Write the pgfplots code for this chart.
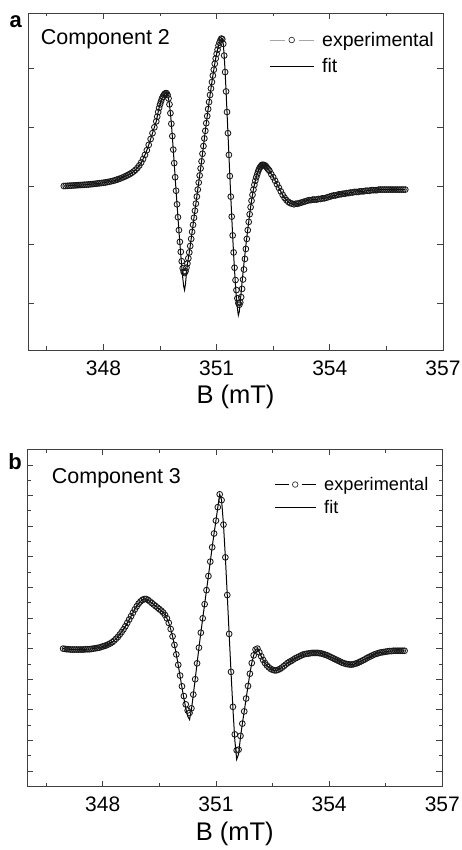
\documentclass[border=0pt]{standalone}
\usepackage{fontspec}
\setmainfont{Liberation Sans}
\usepackage{pgfplots}
\usepackage{pgfplotstable}
\pgfplotsset{compat=1.18}

% Component 2: B (mT), experimental, fit
\pgfplotstableread{
B exp fit
346.95 0.000 0.000
347.00 0.002 0.002
347.05 0.004 0.004
347.10 0.006 0.006
347.15 0.008 0.008
347.20 0.010 0.010
347.25 0.012 0.012
347.30 0.014 0.014
347.35 0.016 0.016
347.40 0.018 0.018
347.45 0.020 0.020
347.50 0.022 0.022
347.55 0.024 0.024
347.60 0.027 0.027
347.65 0.030 0.030
347.70 0.033 0.033
347.75 0.036 0.036
347.80 0.040 0.040
347.85 0.044 0.044
347.90 0.048 0.048
347.95 0.052 0.052
348.00 0.056 0.056
348.05 0.061 0.061
348.10 0.067 0.067
348.15 0.073 0.073
348.20 0.080 0.080
348.25 0.088 0.088
348.30 0.097 0.097
348.35 0.107 0.107
348.40 0.118 0.118
348.45 0.130 0.130
348.50 0.143 0.143
348.55 0.157 0.157
348.60 0.172 0.172
348.65 0.188 0.188
348.70 0.205 0.205
348.75 0.225 0.225
348.80 0.248 0.248
348.85 0.275 0.275
348.90 0.308 0.308
348.95 0.350 0.350
349.00 0.400 0.400
349.05 0.460 0.460
349.10 0.530 0.530
349.15 0.610 0.610
349.20 0.700 0.700
349.25 0.800 0.800
349.30 0.900 0.900
349.35 1.000 1.000
349.40 1.100 1.100
349.425 1.18 1.18
349.450 1.26 1.26
349.475 1.33 1.33
349.500 1.39 1.39
349.525 1.44 1.44
349.550 1.49 1.49
349.575 1.52 1.52
349.600 1.55 1.55
349.625 1.57 1.57
349.650 1.58 1.58
349.675 1.58 1.58
349.700 1.55 1.55
349.725 1.49 1.49
349.750 1.39 1.39
349.775 1.24 1.24
349.800 1.06 1.06
349.825 0.85 0.85
349.850 0.62 0.62
349.875 0.39 0.39
349.900 0.15 0.15
349.925 -0.08 -0.08
349.950 -0.31 -0.31
349.975 -0.53 -0.54
350.000 -0.75 -0.76
350.025 -0.95 -0.97
350.050 -1.12 -1.17
350.075 -1.28 -1.37
350.100 -1.40 -1.55
350.125 -1.46 -1.70
350.150 -1.48 -1.77
350.175 -1.45 -1.66
350.200 -1.39 -1.48
350.225 -1.32 -1.33
350.250 -1.23 -1.23
350.275 -1.13 -1.13
350.300 -1.02 -1.02
350.325 -0.90 -0.90
350.350 -0.78 -0.78
350.375 -0.66 -0.66
350.400 -0.54 -0.54
350.425 -0.42 -0.42
350.450 -0.30 -0.30
350.475 -0.18 -0.18
350.500 -0.06 -0.06
350.525 0.06 0.06
350.550 0.18 0.18
350.575 0.30 0.30
350.600 0.42 0.42
350.625 0.55 0.55
350.650 0.68 0.68
350.675 0.81 0.81
350.700 0.94 0.94
350.725 1.07 1.07
350.750 1.19 1.19
350.775 1.31 1.31
350.800 1.43 1.43
350.825 1.55 1.55
350.850 1.66 1.66
350.875 1.77 1.77
350.900 1.88 1.88
350.925 1.98 1.98
350.950 2.08 2.08
350.975 2.17 2.17
351.000 2.25 2.25
351.025 2.32 2.32
351.050 2.39 2.39
351.075 2.44 2.44
351.100 2.48 2.48
351.125 2.51 2.51
351.150 2.50 2.50
351.175 2.42 2.42
351.200 2.22 2.22
351.225 1.94 1.94
351.250 1.61 1.61
351.275 1.26 1.26
351.300 0.90 0.90
351.325 0.53 0.53
351.350 0.17 0.17
351.375 -0.18 -0.18
351.400 -0.52 -0.52
351.425 -0.84 -0.85
351.450 -1.13 -1.16
351.475 -1.39 -1.44
351.500 -1.60 -1.69
351.525 -1.77 -1.91
351.550 -1.91 -2.08
351.575 -1.99 -2.20
351.600 -2.02 -2.14
351.625 -1.98 -1.98
351.650 -1.89 -1.80
351.675 -1.75 -1.63
351.700 -1.59 -1.47
351.725 -1.42 -1.31
351.750 -1.24 -1.16
351.775 -1.07 -1.01
351.800 -0.90 -0.87
351.825 -0.75 -0.74
351.850 -0.61 -0.61
351.875 -0.48 -0.48
351.900 -0.36 -0.36
351.925 -0.25 -0.25
351.950 -0.15 -0.15
351.975 -0.06 -0.06
352.000 0.02 0.02
352.025 0.09 0.09
352.050 0.15 0.15
352.075 0.20 0.20
352.100 0.25 0.25
352.125 0.29 0.29
352.150 0.32 0.32
352.175 0.34 0.34
352.200 0.36 0.36
352.225 0.36 0.36
352.250 0.36 0.36
352.275 0.35 0.35
352.300 0.34 0.34
352.325 0.32 0.32
352.350 0.30 0.30
352.375 0.28 0.28
352.400 0.26 0.26
352.45 0.20 0.20
352.50 0.15 0.15
352.55 0.09 0.09
352.60 0.03 0.03
352.65 -0.03 -0.03
352.70 -0.09 -0.09
352.75 -0.15 -0.15
352.80 -0.20 -0.20
352.85 -0.24 -0.24
352.90 -0.27 -0.27
352.95 -0.29 -0.29
353.00 -0.30 -0.30
353.05 -0.31 -0.31
353.10 -0.30 -0.30
353.15 -0.30 -0.30
353.20 -0.29 -0.29
353.25 -0.28 -0.28
353.30 -0.27 -0.27
353.35 -0.26 -0.26
353.40 -0.25 -0.25
353.45 -0.24 -0.24
353.50 -0.24 -0.24
353.55 -0.23 -0.23
353.60 -0.23 -0.23
353.65 -0.23 -0.23
353.70 -0.22 -0.22
353.75 -0.22 -0.22
353.80 -0.21 -0.21
353.85 -0.21 -0.21
353.90 -0.20 -0.20
353.95 -0.19 -0.19
354.00 -0.18 -0.18
354.05 -0.17 -0.17
354.10 -0.16 -0.16
354.15 -0.16 -0.16
354.20 -0.15 -0.15
354.25 -0.14 -0.14
354.30 -0.14 -0.14
354.35 -0.13 -0.13
354.40 -0.13 -0.13
354.45 -0.12 -0.12
354.50 -0.12 -0.12
354.55 -0.11 -0.11
354.60 -0.11 -0.11
354.65 -0.10 -0.10
354.70 -0.10 -0.10
354.75 -0.10 -0.10
354.80 -0.09 -0.09
354.85 -0.09 -0.09
354.90 -0.09 -0.09
354.95 -0.08 -0.08
355.00 -0.08 -0.08
355.05 -0.08 -0.08
355.10 -0.07 -0.07
355.15 -0.07 -0.07
355.20 -0.07 -0.07
355.25 -0.07 -0.07
355.30 -0.06 -0.06
355.35 -0.06 -0.06
355.40 -0.06 -0.06
355.45 -0.06 -0.06
355.50 -0.06 -0.06
355.55 -0.06 -0.06
355.60 -0.06 -0.06
355.65 -0.06 -0.06
355.70 -0.06 -0.06
355.75 -0.06 -0.06
355.80 -0.06 -0.06
355.85 -0.06 -0.06
355.90 -0.06 -0.06
355.95 -0.06 -0.06
356.00 -0.06 -0.06
}\tabA

% Component 3: B (mT), experimental, fit
\pgfplotstableread{
B exp fit
346.95 0.00 0.00
347.00 -0.01 -0.01
347.05 -0.02 -0.02
347.10 -0.02 -0.02
347.15 -0.03 -0.03
347.20 -0.03 -0.03
347.25 -0.03 -0.03
347.30 -0.03 -0.03
347.35 -0.03 -0.03
347.40 -0.03 -0.03
347.45 -0.03 -0.03
347.50 -0.03 -0.03
347.55 -0.02 -0.02
347.60 -0.02 -0.02
347.65 -0.02 -0.02
347.70 -0.01 -0.01
347.75 0.00 0.00
347.80 0.01 0.01
347.85 0.02 0.02
347.90 0.03 0.03
347.95 0.05 0.05
348.00 0.07 0.07
348.05 0.09 0.09
348.10 0.11 0.11
348.15 0.14 0.14
348.20 0.17 0.17
348.25 0.21 0.21
348.30 0.26 0.26
348.35 0.32 0.32
348.40 0.38 0.38
348.45 0.46 0.46
348.50 0.54 0.54
348.55 0.63 0.63
348.60 0.73 0.73
348.65 0.84 0.84
348.70 0.95 0.95
348.75 1.06 1.06
348.80 1.17 1.17
348.85 1.28 1.28
348.90 1.38 1.38
348.95 1.47 1.47
349.00 1.54 1.54
349.05 1.59 1.59
349.10 1.62 1.62
349.15 1.62 1.62
349.20 1.59 1.59
349.25 1.54 1.54
349.30 1.49 1.49
349.35 1.44 1.44
349.40 1.39 1.39
349.45 1.34 1.34
349.50 1.29 1.29
349.55 1.24 1.24
349.60 1.18 1.18
349.65 1.10 1.10
349.70 0.99 0.99
349.75 0.84 0.84
349.80 0.64 0.64
349.85 0.40 0.40
349.90 0.12 0.12
349.95 -0.19 -0.19
350.00 -0.53 -0.54
350.05 -0.88 -0.90
350.10 -1.23 -1.27
350.15 -1.55 -1.62
350.20 -1.82 -1.95
350.25 -2.02 -2.20
350.30 -2.10 -2.32
350.35 -1.95 -2.00
350.40 -1.50 -1.50
350.45 -1.00 -1.00
350.50 -0.48 -0.48
350.55 0.03 0.03
350.60 0.52 0.52
350.65 0.99 0.99
350.70 1.45 1.45
350.75 1.91 1.91
350.80 2.37 2.37
350.85 2.84 2.84
350.90 3.31 3.31
350.95 3.76 3.76
351.00 4.18 4.18
351.05 4.62 4.62
351.10 5.04 5.04
351.15 4.85 4.85
351.20 4.05 4.05
351.25 2.98 2.98
351.30 1.75 1.75
351.35 0.48 0.48
351.40 -0.76 -0.78
351.45 -1.90 -1.96
351.50 -2.80 -2.98
351.55 -3.32 -3.62
351.60 -3.30 -3.45
351.65 -2.85 -2.90
351.70 -2.45 -2.45
351.75 -2.05 -2.05
351.80 -1.63 -1.63
351.85 -1.22 -1.22
351.90 -0.82 -0.82
351.95 -0.47 -0.47
352.00 -0.22 -0.22
352.05 -0.03 -0.03
352.10 0.00 0.00
352.15 -0.12 -0.12
352.20 -0.25 -0.25
352.25 -0.37 -0.37
352.30 -0.47 -0.47
352.35 -0.55 -0.55
352.40 -0.61 -0.61
352.45 -0.66 -0.66
352.50 -0.69 -0.69
352.55 -0.71 -0.71
352.60 -0.71 -0.71
352.65 -0.69 -0.69
352.70 -0.66 -0.66
352.75 -0.62 -0.62
352.80 -0.57 -0.57
352.85 -0.52 -0.52
352.90 -0.47 -0.47
352.95 -0.43 -0.43
353.00 -0.40 -0.40
353.05 -0.36 -0.36
353.10 -0.32 -0.32
353.15 -0.29 -0.29
353.20 -0.26 -0.26
353.25 -0.23 -0.23
353.30 -0.20 -0.20
353.35 -0.18 -0.18
353.40 -0.17 -0.17
353.45 -0.16 -0.16
353.50 -0.15 -0.15
353.55 -0.14 -0.14
353.60 -0.14 -0.14
353.65 -0.14 -0.14
353.70 -0.14 -0.14
353.75 -0.15 -0.15
353.80 -0.16 -0.16
353.85 -0.18 -0.18
353.90 -0.20 -0.20
353.95 -0.22 -0.22
354.00 -0.25 -0.25
354.05 -0.28 -0.28
354.10 -0.31 -0.31
354.15 -0.34 -0.34
354.20 -0.37 -0.37
354.25 -0.40 -0.40
354.30 -0.43 -0.43
354.35 -0.46 -0.46
354.40 -0.48 -0.48
354.45 -0.50 -0.50
354.50 -0.51 -0.51
354.55 -0.52 -0.52
354.60 -0.52 -0.52
354.65 -0.51 -0.51
354.70 -0.49 -0.49
354.75 -0.47 -0.47
354.80 -0.44 -0.44
354.85 -0.41 -0.41
354.90 -0.38 -0.38
354.95 -0.35 -0.35
355.00 -0.31 -0.31
355.05 -0.28 -0.28
355.10 -0.25 -0.25
355.15 -0.22 -0.22
355.20 -0.19 -0.19
355.25 -0.17 -0.17
355.30 -0.15 -0.15
355.35 -0.13 -0.13
355.40 -0.12 -0.12
355.45 -0.11 -0.11
355.50 -0.10 -0.10
355.55 -0.09 -0.09
355.60 -0.08 -0.08
355.65 -0.08 -0.08
355.70 -0.07 -0.07
355.75 -0.07 -0.07
355.80 -0.07 -0.07
355.85 -0.07 -0.07
355.90 -0.07 -0.07
355.95 -0.07 -0.07
356.00 -0.07 -0.07
}\tabB

\pgfplotsset{
  epr/.style={
    scale only axis, width=415pt,
    xmin=346, xmax=357,
    xtick={348,351,354,357}, minor xtick={346.5,349.5,352.5,355.5},
    yticklabels={},
    tick align=inside,
    major tick length=6pt, minor tick length=3.5pt,
    axis line style={line width=0.8pt, black!75},
    tick style={line width=0.8pt, black!75},
    /pgf/number format/assume math mode=true,
    tick label style={font=\fontsize{21}{21}\selectfont},
    xticklabel style={yshift=-7pt},
    xlabel={B (mT)},
    xlabel style={font=\fontsize{25.5}{25.5}\selectfont, at={(axis description cs:0.5,0)}, anchor=base, yshift=-54pt},
    legend cell align=left,
  },
  expmarks/.style={only marks, mark=o, mark size=2.9pt, mark options={line width=0.85pt, black!90}},
  fitline/.style={black, line width=1pt, no markers,
    legend image code/.code={\draw[black, line width=1pt] (0pt,0pt) -- (44pt,0pt);}},
}

\begin{document}
\begin{tikzpicture}
\useasboundingbox (0,0) rectangle (461pt,850pt);

\begin{axis}[epr, name=pa, at={(28pt,500pt)}, anchor=south west, height=337pt,
    ymin=-2.79, ymax=2.945, ytick={-2,-1,0,1,2},
    legend style={draw=none, fill=none, inner sep=0pt, at={(0,1)}, anchor=north west,
      xshift=241pt, yshift=-17pt, font=\fontsize{19.5}{19.5}\selectfont, row sep=7pt,
      /tikz/every odd column/.append style={column sep=6pt}}]
  \addplot[expmarks, legend image code/.code={
      \draw[gray!70, line width=0.9pt] (0pt,0pt) -- (15pt,0pt) (29pt,0pt) -- (44pt,0pt);
      \draw[black!80, line width=0.7pt] (22pt,0pt) circle (2.8pt);}]
    table[x=B, y=exp] {\tabA};
  \addlegendentry{experimental}
  \addplot[fitline] table[x=B, y=fit] {\tabA};
  \addlegendentry{fit}
\end{axis}
\node[anchor=base west, inner sep=0pt, font=\fontsize{21.5}{21.5}\selectfont]
  at ([xshift=12.7pt, yshift=-31.5pt]pa.north west) {Component 2};
\node[anchor=base west, inner sep=0pt, font=\bfseries\fontsize{22}{22}\selectfont]
  at ([xshift=-18.7pt, yshift=-15pt]pa.north west) {a};

\begin{axis}[epr, name=pb, at={(27.3pt,63.3pt)}, anchor=south west, height=337.4pt,
    ymin=-4.51, ymax=6.51, ytick={-4,...,6}, minor ytick={-4.5,-3.5,...,6.5},
    legend style={draw=none, fill=none, inner sep=0pt, at={(0,1)}, anchor=north west,
      xshift=246.7pt, yshift=-25.7pt, font=\fontsize{18.2}{18.2}\selectfont, row sep=4pt,
      /tikz/every odd column/.append style={column sep=6pt}}]
  \addplot[expmarks, legend image code/.code={
      \draw[black, line width=0.9pt] (0pt,0pt) -- (14pt,0pt) (27pt,0pt) -- (41pt,0pt);
      \draw[black!80, line width=0.7pt] (20.5pt,0pt) circle (2.8pt);}]
    table[x=B, y=exp] {\tabB};
  \addlegendentry{experimental}
  \addplot[fitline, legend image code/.code={\draw[black, line width=1pt] (0pt,0pt) -- (41pt,0pt);}]
    table[x=B, y=fit] {\tabB};
  \addlegendentry{fit}
\end{axis}
\node[anchor=base west, inner sep=0pt, font=\fontsize{21.5}{21.5}\selectfont]
  at ([xshift=24.4pt, yshift=-34.7pt]pb.north west) {Component 3};
\node[anchor=base west, inner sep=0pt, font=\bfseries\fontsize{22}{22}\selectfont]
  at ([xshift=-19pt, yshift=-20.7pt]pb.north west) {b};
\end{tikzpicture}
\end{document}
